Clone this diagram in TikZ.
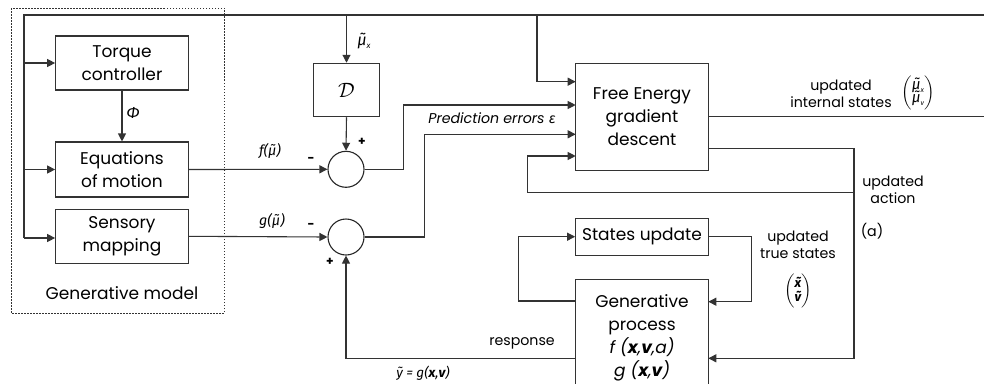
\documentclass[tikz,border=0pt]{standalone}
\usepackage{amsmath,amssymb}
\usepackage{fontspec}
\setmainfont{Poppins}
\newfontfamily\fs{Fira Sans}
\usetikzlibrary{arrows.meta}
\newcommand{\mut}{{\fs\itshape ^^^^03bc^^^^0303}}
\begin{document}
\begin{tikzpicture}[x=1pt,y=-1pt,
  line width=1.1pt, draw=black!80,
  box/.style={draw=black!80, line width=1.1pt, minimum width=132.6pt, align=center, inner sep=0pt, font=\fontsize{17}{23}\selectfont},
  sum/.style={circle, draw=black!85, line width=1.1pt, minimum size=36pt, inner sep=0pt},
  arr/.style={-{Triangle[length=8pt,width=8pt]}},
  lbl/.style={align=center, inner sep=0pt, font=\fontsize{14.2}{17}\selectfont},
  sgn/.style={inner sep=0pt, font=\fontsize{12}{12}\selectfont\bfseries}]
\useasboundingbox (0,0) rectangle (984,383);
% dotted frame
\draw[line width=1pt, dash pattern=on 1.5pt off 1.5pt] (11,8) rectangle (224,313);
% boxes
\node[box, minimum height=54pt] (tc) at (122,63) {Torque\\controller};
\node[box, minimum height=55pt] (eom) at (122,169.5) {Equations\\of motion};
\node[box, minimum height=54pt] (sm) at (122,236.3) {Sensory\\mapping};
\node[box, minimum width=66.4pt, minimum height=53.4pt] (D) at (346.5,90) {\fontsize{22}{22}\selectfont$\mathcal{D}$};
\node[sum] (s1) at (346,169.3) {};
\node[sum] (s2) at (346,237) {};
\node[box, minimum height=106.7pt] (fe) at (642,116.7) {Free Energy\\gradient\\descent};
\node[box, minimum height=36.7pt] (su) at (642,236.7) {States update};
\node[box, minimum height=112pt, anchor=north, text depth=0pt] (gp) at (642,279.3)
  {Generative\\process\\\textit{f (\textbf{x},\textbf{v},a)}\\\textit{g (\textbf{x},\textbf{v})}};
\node[box, draw=none] (gm) at (122,293) {Generative model};
% coordinates
\coordinate (tl) at (24,15);
\coordinate (bl) at (24,238);
\coordinate (tr) at (984,15);
\coordinate (t3) at (537,15);
\coordinate (fe1) at (575.7,81.7);
\coordinate (fe2) at (575.7,105);
\coordinate (fe3) at (575.7,134.3);
\coordinate (fe4) at (575.7,156);
\coordinate (fo) at (708.3,148.3);
\coordinate (ac) at (854,192.7);
\coordinate (gpr2) at (708.3,358.3);
\coordinate (gpr1) at (708.3,301.7);
\coordinate (gpl1) at (575.7,301);
\coordinate (resp) at (575.7,358.3);
\coordinate (ir) at (984,116.7);
% connectors
\draw (tr) -- (tl) -- (bl);
\draw[arr] (tl|-tc.west) -- (tc.west);
\draw[arr] (tl|-eom.west) -- (eom.west);
\draw[arr] (bl) -- (sm.west|-bl);
\draw[arr] (D.north|-tl) -- (D.north);
\draw[arr] (D.south) -- (s1.north);
\draw[arr] (tc.south) -- (eom.north);
\draw[arr] (eom.east) -- (s1.west);
\draw[arr] (sm.east) -- (s2.west);
\draw[arr] (t3) |- (fe1);
\draw[arr] (s1.east) -- ++(39,0) |- (fe2);
\draw[arr] (s2.east) -- ++(59.7,0) |- (fe3);
\draw[arr] (fo) -| (ac) |- (gpr2);
\draw[arr] (ac) -- (527.3,192.7) |- (fe4);
\draw (fe.east) -- (ir);
\draw[arr] (gpl1) -- (518.3,301) |- (su.west);
\draw[arr] (su.east) -- (751.7,236.7) |- (gpr1);
\draw[arr] (resp) -| (s2.south);
% labels
\node[lbl] (phi) at (133,113) {\fontsize{16}{16}\selectfont\fs\itshape Φ};
\node[lbl] (mux) at (364,41) {\fontsize{16}{16}\selectfont\mut\raisebox{-3pt}{\fontsize{8}{8}\selectfont\fs\itshape x}};
\node[sgn] (p1) at (362,142) {+};
\node[sgn] (m1) at (311,160) {-};
\node[lbl] (fmu) at (270,151) {\fs\itshape f(\mut)};
\node[sgn] (m2) at (311,226) {-};
\node[lbl] (gmu) at (272,221) {\fs\itshape g(\mut)};
\node[sgn] (p2) at (330,262) {+};
\node[lbl] (pe) at (492,118) {\itshape Prediction errors {\fs ε}};
\node[lbl] (ist) at (841,94) {updated\\internal states};
\node[lbl] (ism) at (918,93) {$\left(\begin{array}{@{}c@{}}\text{\fontsize{15}{15}\selectfont\mut\raisebox{-3pt}{\fontsize{7}{7}\selectfont\fs\itshape x}}\\[-4pt]\text{\fontsize{15}{15}\selectfont\mut\raisebox{-3pt}{\fontsize{7}{7}\selectfont\fs\itshape v}}\end{array}\right)$};
\node[lbl] (ua) at (893,190) {updated\\action};
\node[lbl] (a) at (872,231) {(a)};
\node[lbl] (uts) at (798,245) {updated\\true states};
\node[lbl] (tsm) at (798,291) {$\left(\begin{array}{@{}c@{}}\text{\fontsize{13}{13}\selectfont\fs\bfseries\itshape x^^^^0303}\\[-3pt]\text{\fontsize{13}{13}\selectfont\fs\bfseries\itshape v^^^^0303}\end{array}\right)$};
\node[lbl] (rs) at (522,343) {response};
\node[lbl] (yt) at (423,373) {\fontsize{13.5}{13.5}\selectfont\fs\itshape ỹ = g(\textbf{x},\textbf{v})};
\end{tikzpicture}
\end{document}
